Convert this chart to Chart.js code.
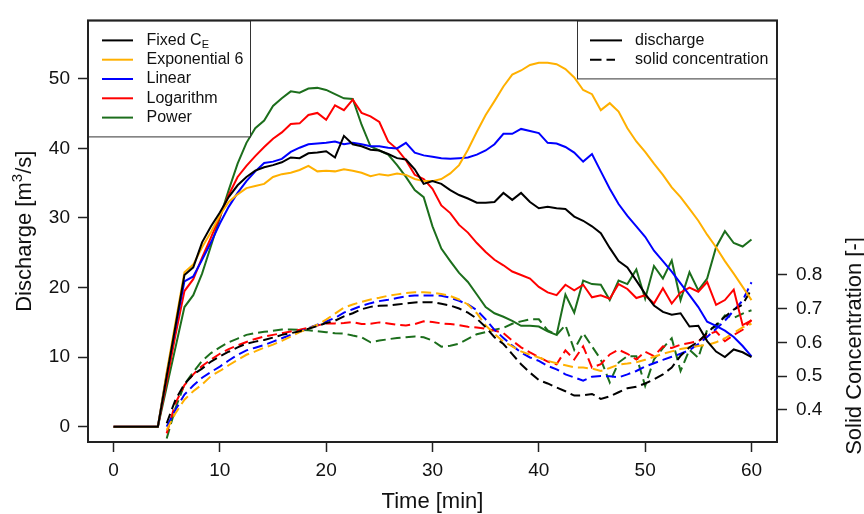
<!DOCTYPE html>
<html><head><meta charset="utf-8">
<script src="https://cdn.jsdelivr.net/npm/chart.js@4"></script>
<style>html,body{margin:0;padding:0;background:#fff}canvas{display:block}</style>
</head><body>
<canvas id="c" width="864" height="514"></canvas>
<script>
// ---- data ----
const time = [0,0.83,1.67,2.5,3.33,4.17,5,5.83,6.67,7.5,8.33,9.17,10,10.83,11.67,12.5,13.33,14.17,15,15.83,16.67,17.5,18.33,19.17,20,20.83,21.67,22.5,23.33,24.17,25,25.83,26.67,27.5,28.33,29.17,30,30.83,31.67,32.5,33.33,34.17,35,35.83,36.67,37.5,38.33,39.17,40,40.83,41.67,42.5,43.33,44.17,45,45.83,46.67,47.5,48.33,49.17,50,50.83,51.67,52.5,53.33,54.17,55,55.83,56.67,57.5,58.33,59.17,60];

const seriesNames = ['Fixed C', 'Exponential 6', 'Linear', 'Logarithm', 'Power'];
const seriesColors = ['#000000', '#FFB000', '#0000FF', '#FF0000', '#1C6E1C'];

// Discharge [m3/s]
const qFixed = [0,0,0,0,0,0, 7.3,14.5,21.8,22.9,26.5,28.8, 30.8,33.0,34.7,35.9,36.8,37.3, 37.6,38.0,38.7,38.6,39.3,39.4, 39.6,38.7,41.8,40.6,40.3,39.8, 39.7,39.2,38.6,38.4,37.0,34.9, 35.3,34.9,34.0,33.3,32.8,32.2, 32.2,32.3,33.6,32.6,33.6,32.3, 31.4,31.6,31.4,31.3,30.2,29.6, 28.8,27.8,25.7,23.8,22.9,21.0, 19.1,17.4,16.5,16.1,16.3,14.4, 14.5,12.3,10.8,10.0,11.1,10.7,10.0];
const qExp = [0,0,0,0,0,0, 7.8,15.0,22.2,23.3,25.8,28.0, 30.4,32.3,33.4,34.3,34.6,34.9, 35.9,36.3,36.5,36.9,37.5,36.7, 36.8,36.7,37.0,36.8,36.5,36.0, 36.3,36.1,36.4,36.2,35.6,35.3, 35.3,35.6,36.4,37.6,39.8,42.4, 44.8,46.8,48.9,50.6,51.2,52.0, 52.3,52.3,52.1,51.4,50.2,48.4, 47.8,45.5,46.5,45.3,42.9,41.0, 39.5,37.8,36.2,34.4,33.0,31.3, 29.6,27.6,25.8,23.8,22.0,20.1,18.2];
const qLin = [0,0,0,0,0,0, 7.6,14.3,20.9,21.6,24.0,26.5, 29.2,31.6,33.6,35.3,36.7,37.9, 38.1,38.5,39.5,40.1,40.6,40.7, 40.8,41.0,40.6,40.8,40.6,40.3, 40.3,40.1,40.0,40.8,39.4,39.0, 38.8,38.6,38.5,38.6,38.7,39.1, 39.7,40.6,42.1,42.1,42.8,42.5, 42.2,40.8,40.7,40.2,39.4,38.1, 39.2,36.7,34.2,32.0,30.3,28.8, 27.3,25.3,23.8,22.3,20.6,18.9, 17.2,15.1,14.5,13.8,12.9,11.6,10.1];
const qLog = [0,0,0,0,0,0, 6.5,13.2,19.5,21.2,24.3,27.2, 30.2,33.3,35.9,37.5,38.9,40.2, 41.4,42.3,43.5,43.6,44.8,45.1, 44.1,46.2,45.5,47.0,45.1,44.6, 43.8,41.0,39.9,38.3,36.2,35.6, 34.2,31.8,30.7,29.0,27.9,26.4, 25.1,24.0,23.2,22.3,21.8,21.3, 20.1,19.3,18.9,20.4,19.6,20.4, 18.6,18.9,18.4,20.5,19.8,18.5, 18.9,17.7,19.9,17.7,19.3,20.0, 19.4,20.8,17.5,18.2,19.7,14.6,15.3];
const qPow = [0,0,0,0,0,0, 5.7,11.4,17.2,18.9,22.0,26.0, 30.0,34.0,37.8,40.8,42.9,44.0, 46.1,47.2,48.2,48.0,48.6,48.7, 48.4,47.8,47.2,47.1,43.4,40.3, 39.7,39.1,37.6,35.9,34.0,33.0, 28.8,25.6,23.8,22.1,20.8,19.0, 17.2,16.3,15.8,15.2,14.5,14.5, 14.4,13.7,13.2,19.0,16.4,21.0, 20.5,20.4,18.2,21.0,20.5,22.6, 18.4,23.1,21.3,23.9,18.2,22.2, 19.6,21.3,25.8,28.1,26.4,25.9,26.9];

// Solid concentration [-]
const cFixed = [null,null,null,null,null,null, 0.36,0.43,0.476,0.505,0.522,0.543, 0.558,0.572,0.585,0.596,0.602,0.607, 0.614,0.622,0.627,0.633,0.640,0.648, 0.657,0.664,0.677,0.686,0.698,0.705, 0.708,0.709,0.712,0.715,0.718,0.719, 0.719,0.714,0.709,0.700,0.688,0.670, 0.645,0.615,0.595,0.565,0.535,0.510, 0.488,0.478,0.466,0.455,0.442,0.443, 0.447,0.432,0.440,0.452,0.464,0.468, 0.478,0.490,0.505,0.525,0.560,0.585, 0.602,0.628,0.652,0.676,0.697,0.712,0.758];
const cExp = [null,null,null,null,null,null, 0.34,0.39,0.43,0.455,0.475,0.50, 0.515,0.532,0.548,0.563,0.573,0.584, 0.593,0.604,0.617,0.630,0.640,0.652, 0.667,0.685,0.703,0.712,0.720,0.727, 0.732,0.738,0.742,0.746,0.748,0.748, 0.747,0.743,0.737,0.727,0.712,0.686, 0.650,0.625,0.602,0.588,0.573,0.563, 0.555,0.545,0.538,0.532,0.526,0.525, 0.522,0.515,0.524,0.534,0.537,0.541, 0.548,0.557,0.566,0.573,0.580,0.585, 0.589,0.592,0.600,0.612,0.628,0.644,0.655];
const cLin = [null,null,null,null,null,null, 0.35,0.40,0.445,0.472,0.495,0.512, 0.528,0.546,0.563,0.576,0.584,0.592, 0.602,0.612,0.622,0.631,0.642,0.652, 0.662,0.672,0.688,0.698,0.708,0.716, 0.722,0.726,0.731,0.736,0.739,0.739, 0.739,0.738,0.732,0.723,0.712,0.695, 0.668,0.637,0.613,0.590,0.570,0.555, 0.545,0.530,0.520,0.505,0.496,0.486, 0.498,0.500,0.499,0.496,0.505,0.515, 0.528,0.538,0.548,0.557,0.566,0.577, 0.595,0.616,0.640,0.664,0.694,0.724,0.778];
const cLog = [null,null,null,null,null,null, 0.33,0.42,0.473,0.505,0.530,0.549, 0.566,0.580,0.591,0.601,0.610,0.617, 0.622,0.627,0.632,0.637,0.643,0.650, 0.656,0.656,0.657,0.660,0.654,0.655, 0.659,0.656,0.652,0.650,0.654,0.662, 0.660,0.656,0.654,0.651,0.646,0.644, 0.640,0.635,0.627,0.605,0.585,0.570, 0.556,0.543,0.535,0.576,0.549,0.588, 0.525,0.535,0.564,0.578,0.566,0.549, 0.572,0.559,0.588,0.583,0.593,0.598, 0.603,0.622,0.632,0.603,0.622,0.637,0.666];
const cPow = [null,null,null,null,null,null, 0.315,0.405,0.475,0.512,0.545,0.568, 0.585,0.600,0.611,0.622,0.627,0.631, 0.634,0.638,0.638,0.637,0.636,0.633, 0.630,0.627,0.626,0.620,0.615,0.600, 0.605,0.609,0.613,0.615,0.617,0.615, 0.605,0.587,0.590,0.596,0.610,0.624, 0.630,0.637,0.643,0.655,0.662,0.668, 0.668,0.635,0.622,0.651,0.578,0.627, 0.588,0.549,0.481,0.540,0.559,0.559, 0.471,0.549,0.583,0.612,0.515,0.578, 0.554,0.637,0.646,0.680,0.672,0.685,0.695];

const xTicks = [0,10,20,30,40,50,60];
const yTicks = [0,10,20,30,40,50];
const y2Ticks = [0.4,0.5,0.6,0.7,0.8];

// ---- chart ----
const FONT = "'Liberation Sans', Arial, sans-serif";
const TXT = '#111';
const discharge = [qFixed, qExp, qLin, qLog, qPow];
const concentration = [cFixed, cExp, cLin, cLog, cPow];
const pts = vals => time.map((t, i) => ({x: t, y: vals[i]}));

const datasets = [];
discharge.forEach((v, i) => datasets.push({
  label: seriesNames[i] + ' discharge', data: pts(v), yAxisID: 'y',
  borderColor: seriesColors[i], borderWidth: 2, pointRadius: 0, tension: 0, fill: false
}));
concentration.forEach((v, i) => datasets.push({
  label: seriesNames[i] + ' solid concentration', data: pts(v), yAxisID: 'y2',
  borderColor: seriesColors[i], borderWidth: 2, borderDash: [10, 5], pointRadius: 0, tension: 0, fill: false
}));

const gridCfg = {drawOnChartArea: false, drawTicks: true, tickLength: 10, tickColor: '#222', tickWidth: 1.5};
const tickFont = {family: FONT, size: 19};

const decor = {
  id: 'decor',
  afterDraw(chart) {
    const ctx = chart.ctx, a = chart.chartArea;
    ctx.save();
    // legend 1 (models)
    const l1w = 162, l1h = 116;
    ctx.fillStyle = '#fff';
    ctx.fillRect(a.left, a.top, l1w, l1h);
    ctx.strokeStyle = '#333'; ctx.lineWidth = 1;
    ctx.strokeRect(a.left + 0.5, a.top + 0.5, l1w, l1h);
    ctx.font = '16px ' + FONT; ctx.textBaseline = 'middle'; ctx.textAlign = 'left';
    seriesNames.forEach((n, i) => {
      const yy = a.top + 20 + i * 19.3;
      ctx.strokeStyle = seriesColors[i]; ctx.lineWidth = 2; ctx.setLineDash([]);
      ctx.beginPath(); ctx.moveTo(a.left + 14, yy); ctx.lineTo(a.left + 45, yy); ctx.stroke();
      ctx.fillStyle = TXT;
      ctx.fillText(n, a.left + 58.5, yy);
      if (i === 0) {
        const w = ctx.measureText(n).width;
        ctx.font = '11px ' + FONT;
        ctx.fillText('E', a.left + 58.5 + w, yy + 5);
        ctx.font = '16px ' + FONT;
      }
    });
    // legend 2 (line types)
    const l2x = 577, l2w = a.right - l2x, l2h = 58;
    ctx.fillStyle = '#fff';
    ctx.fillRect(l2x, a.top, l2w, l2h);
    ctx.strokeStyle = '#333'; ctx.lineWidth = 1;
    ctx.strokeRect(l2x + 0.5, a.top + 0.5, l2w, l2h);
    ctx.strokeStyle = '#000'; ctx.lineWidth = 2;
    ctx.beginPath(); ctx.moveTo(590, a.top + 20); ctx.lineTo(622, a.top + 20); ctx.stroke();
    ctx.setLineDash([11.5, 5]);
    ctx.beginPath(); ctx.moveTo(590, a.top + 39.3); ctx.lineTo(615, a.top + 39.3); ctx.stroke();
    ctx.setLineDash([]);
    ctx.fillStyle = TXT;
    ctx.fillText('discharge', 635, a.top + 20);
    ctx.fillText('solid concentration', 635, a.top + 39.3);
    // plot box
    ctx.strokeStyle = '#222'; ctx.lineWidth = 2;
    ctx.strokeRect(a.left, a.top, a.right - a.left, a.bottom - a.top);
    // axis titles
    ctx.fillStyle = TXT;
    ctx.font = '22px ' + FONT; ctx.textBaseline = 'alphabetic'; ctx.textAlign = 'center';
    ctx.fillText('Time [min]', (a.left + a.right) / 2, 508);
    // left title with superscript
    ctx.save();
    ctx.translate(31, (a.top + a.bottom) / 2);
    ctx.rotate(-Math.PI / 2);
    const p1 = 'Discharge [m', p2 = '3', p3 = '/s]';
    ctx.font = '22px ' + FONT; const w1 = ctx.measureText(p1).width, w3 = ctx.measureText(p3).width;
    ctx.font = '15px ' + FONT; const w2 = ctx.measureText(p2).width;
    let xx = -(w1 + w2 + w3) / 2;
    ctx.textAlign = 'left';
    ctx.font = '22px ' + FONT; ctx.fillText(p1, xx, 0); xx += w1;
    ctx.font = '15px ' + FONT; ctx.fillText(p2, xx, -9); xx += w2;
    ctx.font = '22px ' + FONT; ctx.fillText(p3, xx, 0);
    ctx.restore();
    // right title
    ctx.save();
    ctx.translate(861, 346);
    ctx.rotate(-Math.PI / 2);
    ctx.textAlign = 'center';
    ctx.font = '22px ' + FONT;
    ctx.fillText('Solid Concentration [-]', 0, 0);
    ctx.restore();
    ctx.restore();
  }
};

new Chart(document.getElementById('c'), {
  type: 'line',
  data: {datasets},
  options: {
    responsive: false, animation: false, devicePixelRatio: 1,
    layout: {padding: {top: 14, left: 0, right: 0, bottom: 0}},
    plugins: {legend: {display: false}, tooltip: {enabled: false}, title: {display: false}},
    scales: {
      x: {
        type: 'linear', position: 'bottom', min: -2.4, max: 62.4,
        afterBuildTicks: s => { s.ticks = xTicks.map(v => ({value: v})); },
        afterFit: s => { s.height = 72; },
        grid: gridCfg, border: {display: false},
        ticks: {font: tickFont, color: TXT, padding: 7, maxRotation: 0, autoSkip: false, callback: v => String(v)}
      },
      y: {
        type: 'linear', position: 'left', min: -2.2, max: 58.4,
        afterBuildTicks: s => { s.ticks = yTicks.map(v => ({value: v})); },
        afterFit: s => { s.width = 88; },
        grid: gridCfg, border: {display: false},
        ticks: {font: tickFont, color: TXT, padding: 8, autoSkip: false, callback: v => String(v)}
      },
      y2: {
        type: 'linear', position: 'right', min: 0.3045, max: 1.554,
        afterBuildTicks: s => { s.ticks = y2Ticks.map(v => ({value: v})); },
        afterFit: s => { s.width = 87; },
        grid: gridCfg, border: {display: false},
        ticks: {font: tickFont, color: TXT, padding: 9, autoSkip: false, callback: v => Number(v).toFixed(1)}
      }
    }
  },
  plugins: [decor]
});
</script>
</body></html>
